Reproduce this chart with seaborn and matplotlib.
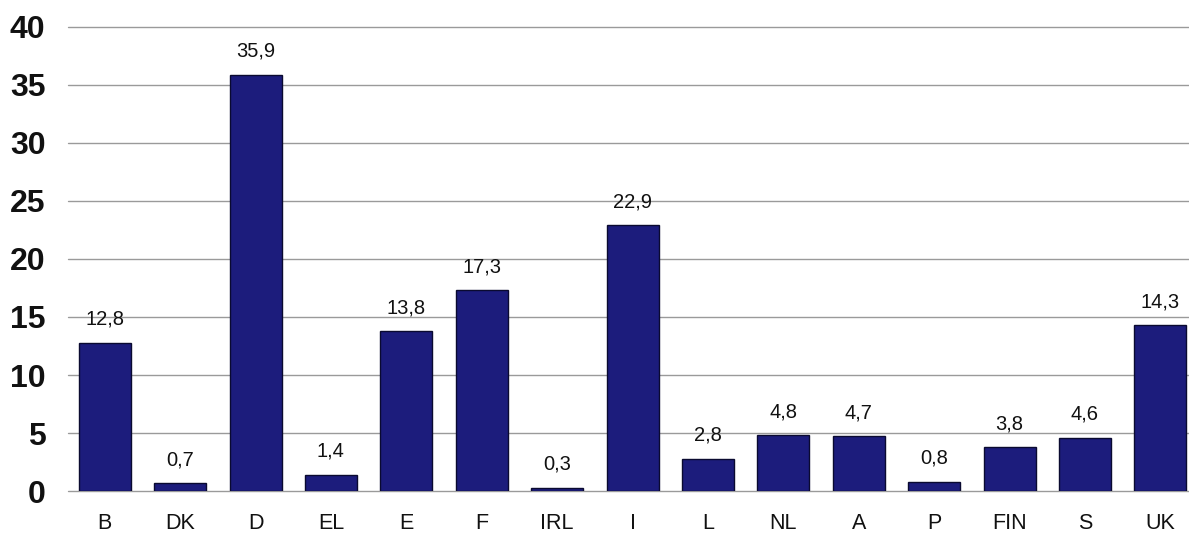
import pandas as pd
import matplotlib.pyplot as plt
import seaborn as sns

# Data
countries = ["B", "DK", "D", "EL", "E", "F", "IRL", "I", "L", "NL", "A", "P", "FIN", "S", "UK"]
values = [12.8, 0.7, 35.9, 1.4, 13.8, 17.3, 0.3, 22.9, 2.8, 4.8, 4.7, 0.8, 3.8, 4.6, 14.3]
y_ticks = [0, 5, 10, 15, 20, 25, 30, 35, 40]

df = pd.DataFrame({"country": countries, "value": values})

sns.set_theme(style="white")
plt.rcParams["font.family"] = ["Liberation Sans", "DejaVu Sans"]

fig = plt.figure(figsize=(11.89, 5.39), dpi=100)
ax = fig.add_axes([0.057, 0.089, 0.943, 0.861])

sns.barplot(data=df, x="country", y="value", color="#1c1c7c", saturation=1,
            width=0.69, edgecolor="#0a0a30", linewidth=1, ax=ax, zorder=3)

# value labels with decimal comma
labels = [f"{v:.1f}".replace(".", ",") for v in values]
ax.bar_label(ax.containers[0], labels=labels, padding=10, fontsize=14.5, color="#111111")

ax.set_ylim(0, 40)
ax.set_xlim(-0.49, 14.38)
ax.set_yticks(y_ticks)
ax.set_yticklabels([str(t) for t in y_ticks], fontsize=23, fontweight="bold", color="#111111")
ax.tick_params(axis="y", length=0, pad=16)
ax.tick_params(axis="x", length=0, pad=16, labelsize=15.5, labelcolor="#111111")
ax.set_xlabel("")
ax.set_ylabel("")

ax.yaxis.grid(True, color="#9a9a9a", linewidth=1)
ax.set_axisbelow(True)
for gl in ax.get_ygridlines():
    gl.set_clip_on(False)
for s in ax.spines.values():
    s.set_visible(False)

fig.savefig("out.png", dpi=100)
